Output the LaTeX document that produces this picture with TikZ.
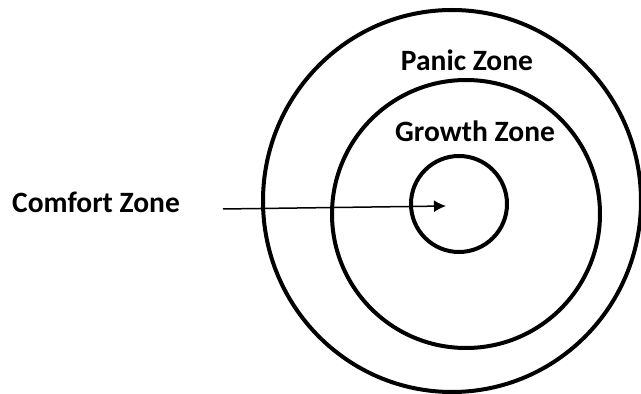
\documentclass[tikz,border=0pt]{standalone}
\usepackage{fontspec}
\setmainfont{Carlito}
\usepackage{tikz}
\usetikzlibrary{arrows.meta}

\begin{document}
\begin{tikzpicture}[x=1pt, y=1pt, font=\fontsize{29.5}{34}\selectfont\bfseries,
  zone/.style={line width=4pt},
  label/.style={inner sep=0pt}]
\useasboundingbox (0,0) rectangle (641,394);
% zone rings
\draw[zone] (452,193) ellipse [x radius=189pt, y radius=191pt];
\draw[zone] (466,180) circle (134pt);
\draw[zone] (459,190) circle (48pt);
% zone names
\node[label, anchor=base] (panic) at (467,323) {Panic Zone};
\node[label, anchor=base] (growth) at (475,252) {Growth Zone};
\node[label, anchor=base west] (comfort) at (12,181) {Comfort Zone};
% pointer into the comfort zone
\coordinate (tail) at (223,185);
\coordinate (tip) at (446,188);
\draw[line width=1.5pt, -{Latex[length=12pt, width=12pt]}] (tail) -- (tip);
\end{tikzpicture}
\end{document}
